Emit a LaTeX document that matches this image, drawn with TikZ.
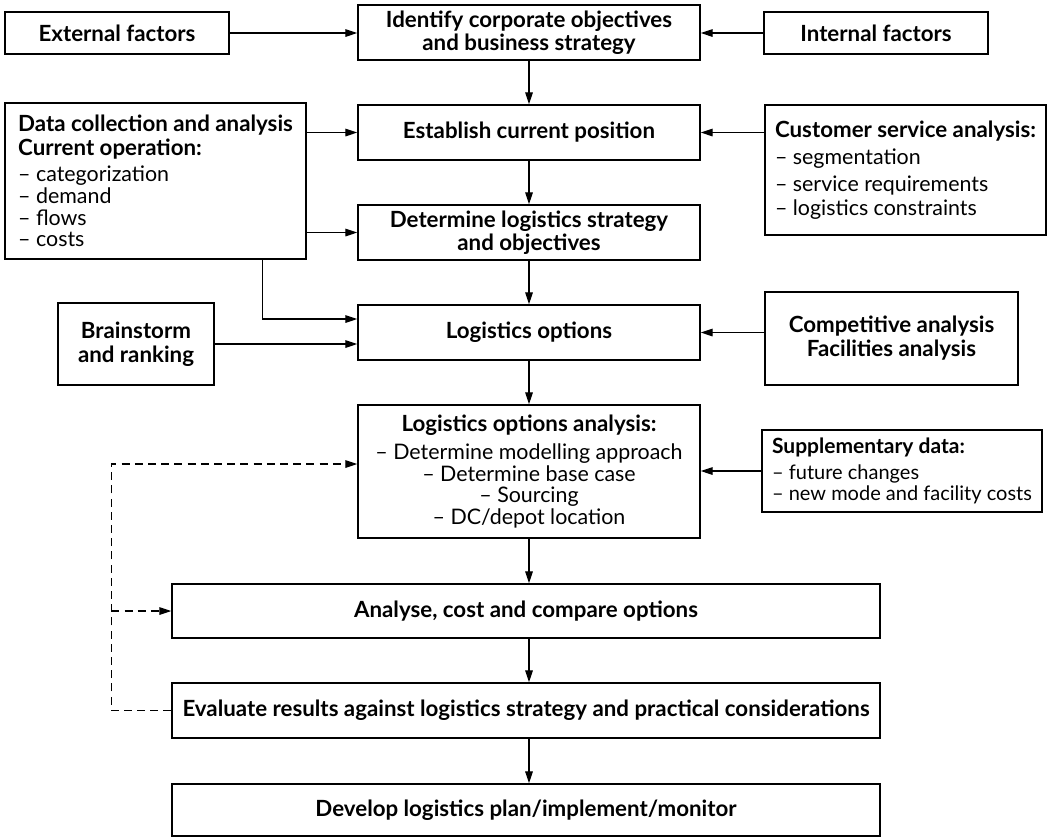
\documentclass[tikz,border=0pt]{standalone}
\usepackage{fontspec}
\setmainfont{Lato}
\usetikzlibrary{arrows.meta,calc}
\newcommand{\hd}[1]{{\fontsize{11.15}{11.5}\selectfont\bfseries #1}}
\tikzset{
  box/.style={draw,line width=.7pt,inner sep=0pt,align=center,
    font=\fontsize{11.15}{11.5}\selectfont\bfseries},
  listbox/.style={box,align=left,font=\fontsize{10.7}{10.8}\selectfont},
  dims/.style 2 args={minimum width=#1*.5pt,minimum height=#2*.5pt},
  link/.style={-{Triangle[length=6pt,width=3.8pt]},line width=.65pt},
  backlink/.style={link,dash pattern=on 4pt off 2.6pt},
}
\begin{document}
\begin{tikzpicture}[x=.5pt,y=-.5pt]
  \useasboundingbox (0,0) rectangle (1049,837);

  % main column
  \node[box,dims={342}{55}] (ident) at (529,32.5)
    {Identify corporate objectives\\and business strategy};
  \node[box,dims={342}{55}] (estab) at (529,132.5) {Establish current position};
  \node[box,dims={342}{55}] (strat) at (529,232.5)
    {Determine logistics strategy\\and objectives};
  \node[box,dims={342}{55}] (opts) at (529,332.5) {Logistics options};
  \node[listbox,align=center,dims={342}{133}] (anal) at (529,471.5)
    {\hd{Logistics options analysis:}\\[3.3pt]
     -- Determine modelling approach\\
     -- Determine base case\\
     -- Sourcing\\
     -- DC/depot location};
  \node[box,dims={708}{54}] (cost) at (526,611) {Analyse, cost and compare options};
  \node[box,dims={708}{55}] (eval) at (526,710.5)
    {Evaluate results against logistics strategy and practical considerations};
  \node[box,dims={708}{52}] (dev) at (526,810) {Develop logistics plan/implement/monitor};

  % inputs on the left
  \node[box,dims={224}{42}] (ext) at (117,33) {External factors};
  \node[listbox,dims={301}{156}] (data) at (155.5,181)
    {\hd{Data collection and analysis}\\[1pt]
     \hd{Current operation:}\\[2.5pt]
     -- categorization\\
     -- demand\\
     -- flows\\
     -- costs};
  \node[box,dims={156}{82}] (brain) at (136,344) {Brainstorm\\[.5pt]and ranking};

  % inputs on the right
  \node[box,dims={224}{42}] (int) at (876,33) {Internal factors};
  \node[listbox,dims={281}{130}] (cust) at (905.5,170)
    {\hd{Customer service analysis:}\\[2.7pt]
     -- segmentation\\[2.7pt]
     -- service requirements\\[1.2pt]
     -- logistics constraints};
  \node[box,dims={253}{93}] (comp) at (891.5,338.5)
    {Competitive analysis\\[.5pt]Facilities analysis};
  \node[listbox,dims={280}{82},font=\fontsize{10}{10.6}\selectfont] (supp) at (902,471)
    {\textbf{\fontsize{10.5}{11}\selectfont Supplementary data:}\\[2pt]
     -- future changes\\
     -- new mode and facility costs};

  % flow down the main column
  \draw[link] (ident) -- (estab);
  \draw[link] (estab) -- (strat);
  \draw[link] (strat) -- (opts);
  \draw[link] (opts) -- (anal);
  \draw[link] (anal.south) -- (anal.south |- cost.north);
  \draw[link] (anal.south |- cost.south) -- (anal.south |- eval.north);
  \draw[link] (anal.south |- eval.south) -- (anal.south |- dev.north);

  % side inputs
  \draw[link] (ext.east) -- (ext.east -| ident.west);
  \draw[link] (int.west) -- (int.west -| ident.east);
  \draw[link] (data.east |- estab) -- (estab.west);
  \draw[link] (data.east |- strat) -- (strat.west);
  \draw[link] ([xshift=-22pt]data.south east) |- ([yshift=6.75pt]opts.west);
  \draw[link] (brain.east) -- (brain.east -| opts.west);
  \draw[link] (cust.west |- estab) -- (estab.east);
  \draw[link] (comp.west |- opts) -- (opts.east);
  \draw[link] (supp.west) -- (supp.west -| anal.east);

  % feedback loop
  \coordinate (back) at ([xshift=-30pt]eval.west);
  \draw[backlink] (eval.west) -- (back) |- ([yshift=3.75pt]anal.west);
  \draw[backlink] (back |- cost.west) -- (cost.west);
\end{tikzpicture}
\end{document}
